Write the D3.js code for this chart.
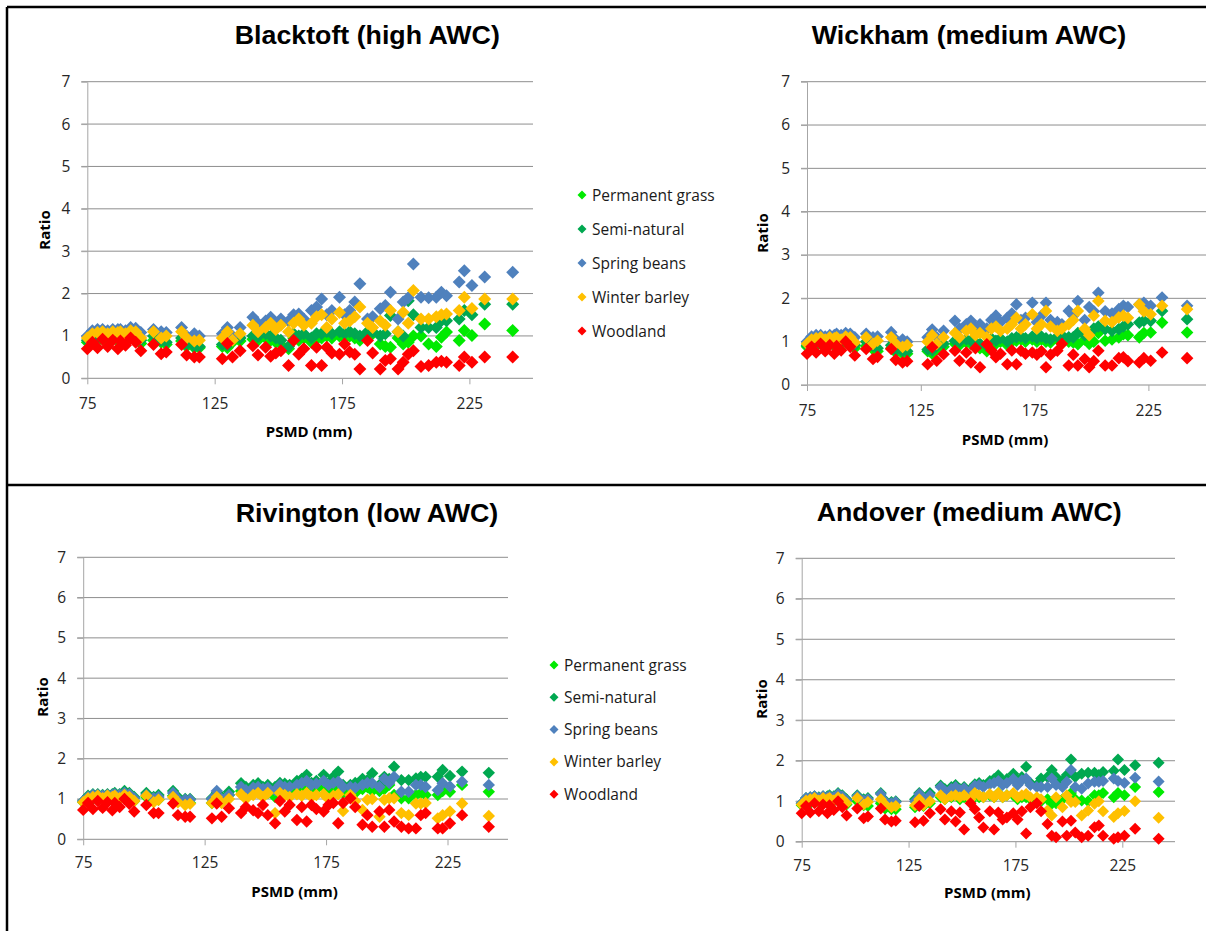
<!DOCTYPE html>
<html lang="en">
<head>
<meta charset="UTF-8">
<title>Ratio against PSMD at four sites</title>
<script src="https://cdn.jsdelivr.net/npm/d3@7"></script>
<style>
  html, body { margin: 0; padding: 0; background: #fff; }
  svg { display: block; }
</style>
</head>
<body>
<div id="chart"></div>
<script>
// PSMD (mm), shared by all sites
const psmd = [75, 77, 79, 81, 83, 85, 87, 88, 90, 92, 94, 96,
  101, 104, 106, 112, 114, 117, 119,
  128, 130, 132, 135,
  140, 142, 145, 147, 149, 151, 154, 156, 158, 160,
  163, 165, 167, 169, 171, 174, 176, 178, 180, 182,
  185, 187, 190, 192, 194, 197, 199, 201, 203,
  206, 209, 212, 214, 216, 221, 223, 226, 231, 242];

const seriesNames = ["Permanent grass", "Semi-natural", "Spring beans", "Winter barley", "Woodland"];
const yTicks = [0, 1, 2, 3, 4, 5, 6, 7];
const xTicks = [75, 125, 175, 225];

// Blacktoft (high AWC)
const bGrass = [0.85,0.90,0.88,0.92,0.90,0.92,0.88,0.90,0.92,0.95,0.90,0.82,
  0.90,0.85,0.80,0.88,0.75,0.72,0.72,
  0.75,0.72,0.85,0.88,
  0.92,0.90,0.95,0.90,0.85,0.80,0.70,0.95,0.90,0.95,
  0.85,0.92,0.95,1.00,0.95,1.00,0.95,1.00,0.95,0.90,
  1.00,1.05,0.81,0.75,0.73,0.95,0.81,0.85,1.00,
  1.00,0.81,0.75,0.97,1.09,0.89,1.13,1.01,1.28,1.13];
const bSemi = [0.90,0.95,0.95,1.00,0.98,1.00,0.98,1.00,1.00,1.05,1.00,0.90,
  1.00,0.90,0.85,0.95,0.80,0.75,0.75,
  0.80,0.78,0.90,0.95,
  1.00,0.98,1.05,1.00,0.95,0.90,0.75,1.05,1.00,1.05,
  0.95,1.05,1.05,1.10,1.05,1.10,1.05,1.10,1.05,1.00,
  1.10,1.10,1.00,1.05,1.48,1.10,1.00,1.83,1.50,
  1.20,1.20,1.20,1.36,1.36,1.40,1.60,1.50,1.75,1.75];
const bBeans = [1.00,1.12,1.15,1.15,1.12,1.15,1.15,1.15,1.12,1.20,1.18,1.08,
  1.15,1.10,1.08,1.20,1.00,1.05,1.00,
  1.05,1.20,1.00,1.20,
  1.44,1.30,1.35,1.44,1.30,1.40,1.35,1.50,1.52,1.40,
  1.60,1.68,1.87,1.50,1.60,1.91,1.50,1.60,1.80,2.23,
  1.40,1.45,1.64,1.72,2.03,1.40,1.80,1.90,2.70,
  1.91,1.90,1.91,2.03,1.95,2.27,2.54,2.19,2.39,2.50];
const bBarley = [0.95,1.05,1.08,1.10,1.05,1.10,1.08,1.10,1.05,1.12,1.10,0.95,
  1.10,0.95,1.00,1.10,0.95,0.88,0.90,
  0.95,1.10,0.90,1.05,
  1.25,1.10,1.20,1.30,1.15,1.25,1.10,1.30,1.40,1.25,
  1.30,1.45,1.50,1.20,1.40,1.55,1.30,1.35,1.45,1.68,
  1.30,1.20,1.35,1.25,1.60,1.10,1.56,1.30,2.07,
  1.40,1.40,1.45,1.50,1.52,1.60,1.91,1.65,1.87,1.87];
const bWood = [0.70,0.85,0.72,0.92,0.75,0.90,0.70,0.88,0.78,0.95,0.85,0.65,
  0.80,0.58,0.62,0.80,0.55,0.50,0.50,
  0.46,0.82,0.50,0.65,
  0.77,0.55,0.73,0.52,0.60,0.65,0.30,0.89,0.57,0.70,
  0.30,0.73,0.30,0.73,0.60,0.57,0.81,0.62,0.57,0.22,
  0.89,0.60,0.22,0.42,0.46,0.22,0.38,0.57,0.65,
  0.28,0.30,0.38,0.40,0.38,0.30,0.50,0.38,0.50,0.50];

// Wickham (medium AWC)
const wGrass = [0.88,0.92,0.90,0.95,0.92,0.95,0.90,0.92,0.95,0.98,0.92,0.85,
  0.90,0.82,0.78,0.85,0.75,0.72,0.72,
  0.78,0.72,0.82,0.88,
  0.95,0.92,0.98,0.95,0.90,0.85,0.78,1.00,0.95,1.00,
  0.92,1.00,1.02,1.05,1.00,1.05,1.00,1.05,1.00,0.98,
  1.05,1.10,1.00,0.98,0.94,1.05,0.95,1.00,1.20,
  1.02,1.05,1.10,1.17,1.15,1.10,1.20,1.21,1.44,1.21];
const wSemi = [0.92,0.98,0.98,1.02,1.00,1.02,1.00,1.02,1.02,1.08,1.02,0.92,
  1.00,0.90,0.85,0.92,0.80,0.78,0.78,
  0.82,0.80,0.90,0.95,
  1.02,1.00,1.05,1.02,0.98,0.95,0.90,1.08,1.02,1.08,
  1.00,1.08,1.10,1.12,1.08,1.12,1.08,1.12,1.08,1.05,
  1.12,1.15,1.10,1.10,1.20,1.15,1.20,1.30,1.35,
  1.29,1.25,1.29,1.35,1.40,1.44,1.48,1.48,1.71,1.52];
const wBeans = [1.00,1.12,1.15,1.15,1.12,1.15,1.15,1.18,1.15,1.20,1.18,1.10,
  1.18,1.10,1.12,1.22,1.05,1.05,1.00,
  1.10,1.28,1.10,1.25,
  1.48,1.30,1.40,1.48,1.35,1.40,1.30,1.50,1.60,1.45,
  1.55,1.65,1.86,1.50,1.55,1.90,1.45,1.60,1.90,1.50,
  1.45,1.40,1.71,1.60,1.94,1.50,1.80,1.70,2.13,
  1.70,1.65,1.75,1.83,1.80,1.86,1.90,1.83,2.02,1.83];
const wBarley = [0.95,1.05,1.08,1.10,1.05,1.10,1.08,1.10,1.05,1.12,1.10,0.98,
  1.10,0.95,1.02,1.10,0.95,0.88,0.92,
  1.00,1.15,0.95,1.10,
  1.20,1.10,1.25,1.30,1.15,1.20,1.10,1.30,1.35,1.25,
  1.30,1.40,1.55,1.30,1.40,1.63,1.30,1.40,1.71,1.35,
  1.25,1.30,1.40,1.50,1.71,1.30,1.15,1.60,1.94,
  1.48,1.45,1.56,1.60,1.55,1.86,1.70,1.63,1.83,1.75];
const wWood = [0.72,0.88,0.75,0.95,0.78,0.92,0.72,0.90,0.80,1.00,0.88,0.68,
  0.83,0.60,0.65,0.83,0.58,0.52,0.55,
  0.48,0.87,0.56,0.71,
  0.79,0.56,0.75,0.52,0.85,0.41,0.94,0.80,0.64,0.72,
  0.48,0.80,0.48,0.79,0.72,0.75,0.70,0.78,0.41,0.70,
  0.79,0.95,0.45,0.70,0.45,0.60,0.41,0.55,0.79,
  0.45,0.45,0.62,0.64,0.55,0.52,0.62,0.56,0.75,0.62];

// Rivington (low AWC)
const rGrass = [0.92,0.98,1.00,1.02,1.00,1.02,1.00,1.05,1.02,1.08,1.05,0.95,
  1.05,0.95,0.98,1.08,0.95,0.90,0.90,
  0.90,1.05,0.95,1.10,
  1.20,1.10,1.15,1.20,1.12,1.15,1.05,1.20,1.22,1.15,
  1.20,1.25,1.30,1.20,1.25,1.30,1.20,1.25,1.30,1.15,
  1.20,1.15,1.25,1.30,1.20,1.20,1.25,1.35,1.10,
  1.02,1.02,1.10,1.14,1.10,1.10,1.20,1.18,1.35,1.18];
const rSemi = [0.95,1.08,1.12,1.12,1.10,1.12,1.12,1.15,1.12,1.20,1.15,1.05,
  1.15,1.05,1.10,1.20,1.05,1.00,1.00,
  1.02,1.15,1.05,1.18,
  1.39,1.30,1.35,1.39,1.30,1.35,1.30,1.40,1.38,1.35,
  1.45,1.50,1.60,1.40,1.45,1.60,1.40,1.55,1.68,1.35,
  1.35,1.40,1.50,1.47,1.64,1.35,1.55,1.50,1.80,
  1.47,1.47,1.51,1.55,1.55,1.55,1.72,1.57,1.68,1.65];
const rBeans = [0.95,1.05,1.10,1.10,1.08,1.10,1.10,1.12,1.10,1.15,1.12,1.02,
  1.10,1.02,1.05,1.15,1.00,0.98,0.98,
  1.00,1.20,1.00,1.10,
  1.30,1.22,1.28,1.30,1.25,1.28,1.22,1.35,1.30,1.30,
  1.35,1.40,1.45,1.35,1.38,1.45,1.35,1.40,1.43,1.30,
  1.30,1.28,1.35,1.40,1.39,1.30,1.50,1.40,1.55,
  1.18,1.18,1.35,1.35,1.30,1.22,1.39,1.31,1.43,1.35];
const rBarley = [0.92,1.02,1.05,1.08,1.02,1.08,1.05,1.08,1.02,1.10,1.05,0.95,
  1.08,0.92,0.98,1.05,0.92,0.85,0.88,
  0.90,1.05,0.90,1.00,
  1.12,1.00,1.10,1.15,1.05,1.15,0.65,1.15,1.10,1.05,
  1.12,1.08,1.15,1.05,1.10,1.12,1.00,1.08,1.12,0.70,
  1.10,0.95,0.73,0.98,1.00,0.56,0.98,1.02,1.02,
  0.65,0.60,0.89,0.89,0.90,0.52,0.60,0.69,0.89,0.58];
const rWood = [0.73,0.90,0.75,0.95,0.78,0.92,0.72,0.90,0.80,1.00,0.88,0.69,
  0.85,0.65,0.65,0.89,0.60,0.56,0.56,
  0.52,0.89,0.56,0.77,
  0.65,0.80,0.72,0.65,0.85,0.60,0.40,0.95,0.69,0.85,
  0.48,0.80,0.44,0.85,0.75,0.69,0.85,0.90,0.40,0.90,
  1.02,0.80,0.36,0.60,0.31,0.69,0.31,0.73,0.44,
  0.31,0.27,0.27,0.60,0.65,0.27,0.27,0.40,0.60,0.31];

// Andover (medium AWC)
const aGrass = [0.90,0.95,0.95,1.00,0.98,1.00,0.98,1.00,1.00,1.05,1.00,0.92,
  1.00,0.90,0.88,0.95,0.82,0.80,0.80,
  0.85,0.90,0.88,0.95,
  1.10,1.05,1.10,1.15,1.05,1.10,1.00,1.15,1.10,1.10,
  1.15,1.10,1.20,1.10,1.15,1.15,1.05,1.10,1.10,1.05,
  1.00,1.00,1.05,0.94,0.95,1.05,1.10,1.20,1.05,
  1.02,1.00,1.15,1.15,1.20,1.10,1.20,1.15,1.35,1.23];
const aSemi = [0.95,1.08,1.10,1.12,1.10,1.12,1.12,1.15,1.12,1.20,1.15,1.05,
  1.15,1.05,1.08,1.20,1.02,0.98,1.00,
  1.05,1.20,1.05,1.20,
  1.39,1.30,1.35,1.40,1.30,1.35,1.30,1.42,1.45,1.40,
  1.50,1.55,1.64,1.50,1.55,1.68,1.50,1.60,1.85,1.45,
  1.40,1.56,1.60,1.77,1.60,1.50,1.65,2.03,1.60,
  1.68,1.70,1.70,1.65,1.72,1.75,2.03,1.77,1.89,1.95];
const aBeans = [0.95,1.08,1.10,1.12,1.08,1.12,1.10,1.12,1.10,1.18,1.12,1.02,
  1.12,1.02,1.05,1.18,1.00,0.95,0.98,
  1.00,1.18,1.02,1.15,
  1.35,1.25,1.30,1.35,1.28,1.32,1.25,1.38,1.40,1.35,
  1.42,1.45,1.50,1.40,1.45,1.55,1.40,1.52,1.56,1.40,
  1.35,1.35,1.35,1.56,1.40,1.35,1.48,1.77,1.35,
  1.31,1.44,1.48,1.48,1.50,1.56,1.50,1.45,1.58,1.49];
const aBarley = [0.92,1.02,1.05,1.08,1.02,1.08,1.05,1.08,1.02,1.10,1.05,0.95,
  1.08,0.92,0.98,1.05,0.92,0.85,0.88,
  0.90,1.05,0.90,1.00,
  1.15,1.05,1.12,1.15,1.10,1.15,1.05,1.20,1.15,1.10,
  1.18,1.10,1.20,1.10,1.15,1.20,1.10,1.15,1.18,1.10,
  1.10,1.05,0.77,0.65,1.10,0.85,1.15,0.98,0.98,
  0.65,0.77,0.94,1.00,0.75,0.61,0.70,0.76,1.00,0.59];
const aWood = [0.70,0.88,0.72,0.95,0.75,0.92,0.70,0.90,0.78,1.00,0.85,0.65,
  0.82,0.58,0.62,0.82,0.55,0.50,0.52,
  0.48,0.88,0.52,0.70,
  0.80,0.55,0.75,0.50,0.72,0.30,0.95,0.80,0.60,0.35,
  0.75,0.30,0.72,0.55,0.60,0.70,0.55,0.75,0.20,0.85,
  0.95,0.75,0.44,0.15,0.11,0.50,0.15,0.52,0.23,
  0.11,0.15,0.36,0.40,0.15,0.07,0.11,0.15,0.32,0.07];

const colors = ["#00ea00", "#00a850", "#4f81bd", "#ffc000", "#ff0000"];

// layout of each chart
const panels = [
  { title: "Blacktoft (high AWC)", series: [bGrass, bSemi, bBeans, bBarley, bWood],
    x75: 87.3, x225: 469.4, right: 533, y7: 81.7, y0: 378.3,
    titleX: 367.3, titleY: 44, titleW: 265, ratioX: 44.6, ratioY: 230, psmdX: 309, psmdY: 437,
    xLabelPad: 14, r: 6.5,
    legend: { x: 582, y: 195, step: 34 } },
  { title: "Wickham (medium AWC)", series: [wGrass, wSemi, wBeans, wBarley, wWood],
    x75: 807, x225: 1148.4, right: 1206, y7: 81.7, y0: 385,
    titleX: 969, titleY: 44, titleW: 314.5, ratioX: 762.7, ratioY: 233, psmdX: 1005, psmdY: 445,
    xLabelPad: 14, r: 6.3 },
  { title: "Rivington (low AWC)", series: [rGrass, rSemi, rBeans, rBarley, rWood],
    x75: 83.2, x225: 447.5, right: 508, y7: 557.3, y0: 839.3,
    titleX: 367, titleY: 521.7, titleW: 262.5, ratioX: 42.9, ratioY: 697, psmdX: 294.6, psmdY: 897,
    xLabelPad: 12, r: 6.2,
    legend: { x: 554, y: 665, step: 32.3 } },
  { title: "Andover (medium AWC)", series: [aGrass, aSemi, aBeans, aBarley, aWood],
    x75: 801.7, x225: 1122.3, right: 1175, y7: 558.3, y0: 841.7,
    titleX: 969.2, titleY: 520.7, titleW: 305, ratioX: 761.7, ratioY: 699, psmdX: 987.3, psmdY: 898,
    xLabelPad: 12, r: 6 }
];

const W = 1206, H = 931;
const svg = d3.select("#chart").append("svg")
  .attr("width", W)
  .attr("height", H);

// Excel style diamond marker
const diamondType = {
  draw(ctx, size) {
    const r = Math.sqrt(size) / 2;
    ctx.moveTo(0, -r); ctx.lineTo(r, 0); ctx.lineTo(0, r); ctx.lineTo(-r, 0); ctx.closePath();
  }
};

panels.forEach(p => {
  const x = d3.scaleLinear().domain([75, 225]).range([p.x75, p.x225]);
  const y = d3.scaleLinear().domain([0, 7]).range([p.y0, p.y7]);
  const g = svg.append("g");

  // horizontal gridlines
  g.append("g")
    .selectAll("line")
    .data(yTicks)
    .join("line")
    .attr("x1", p.x75 - 6)
    .attr("x2", p.right)
    .attr("y1", d => y(d))
    .attr("y2", d => y(d))
    .attr("stroke", "#8e8e8e")
    .attr("stroke-width", 1);

  // y axis
  const yAxis = g.append("g")
    .attr("transform", `translate(${p.x75},0)`)
    .call(d3.axisLeft(y).tickValues(yTicks).tickFormat(d3.format("d"))
      .tickSize(6).tickSizeOuter(0).tickPadding(11));
  yAxis.select(".domain").attr("stroke", "#a6a6a6");
  yAxis.selectAll(".tick line").attr("stroke", "#a6a6a6");
  yAxis.selectAll("text")
    .attr("font-family", "'Open Sans', sans-serif")
    .attr("font-size", 15.5)
    .attr("fill", "#262626");

  // x axis
  const xAxis = g.append("g")
    .attr("transform", `translate(0,${p.y0})`)
    .call(d3.axisBottom(x).tickValues(xTicks).tickFormat(d3.format("d"))
      .tickSize(6).tickSizeOuter(0).tickPadding(p.xLabelPad));
  xAxis.select(".domain").remove();
  xAxis.selectAll(".tick line").attr("stroke", "#a6a6a6");
  xAxis.selectAll("text")
    .attr("font-family", "'Open Sans', sans-serif")
    .attr("font-size", 15.5)
    .attr("fill", "#262626");

  // points, drawn in legend order so Woodland is on top
  const symbol = d3.symbol().type(diamondType).size((2 * p.r) ** 2);
  p.series.forEach((vals, i) => {
    g.append("g")
      .selectAll("path")
      .data(psmd.map((v, j) => [v, vals[j]]))
      .join("path")
      .attr("transform", d => `translate(${x(d[0])},${y(d[1])})`)
      .attr("d", symbol)
      .attr("fill", colors[i]);
  });

  // titles
  g.append("text")
    .attr("x", p.titleX)
    .attr("y", p.titleY)
    .attr("text-anchor", "middle")
    .attr("font-family", "'Liberation Sans', Arial, sans-serif")
    .attr("font-weight", "bold")
    .attr("font-size", 26)
    .attr("textLength", p.titleW)
    .attr("lengthAdjust", "spacingAndGlyphs")
    .text(p.title);

  g.append("text")
    .attr("transform", `translate(${p.ratioX},${p.ratioY}) rotate(-90)`)
    .attr("text-anchor", "middle")
    .attr("dy", "0.35em")
    .attr("font-family", "'Open Sans', sans-serif")
    .attr("font-weight", "bold")
    .attr("font-size", 15)
    .text("Ratio");

  g.append("text")
    .attr("x", p.psmdX)
    .attr("y", p.psmdY)
    .attr("text-anchor", "middle")
    .attr("font-family", "'Open Sans', sans-serif")
    .attr("font-weight", "bold")
    .attr("font-size", 15)
    .text("PSMD (mm)");

  // legend
  if (p.legend) {
    const lg = g.append("g");
    const small = d3.symbol().type(diamondType).size(81);
    const row = lg.selectAll("g")
      .data(seriesNames)
      .join("g")
      .attr("transform", (d, i) => `translate(${p.legend.x},${p.legend.y + i * p.legend.step})`);
    row.append("path")
      .attr("d", small)
      .attr("fill", (d, i) => colors[i]);
    row.append("text")
      .attr("x", 10)
      .attr("y", 5.5)
      .attr("font-family", "'Open Sans', sans-serif")
      .attr("font-size", 15.5)
      .attr("fill", "#1a1a1a")
      .text(d => d);
  }
});

// black frame lines between the charts
const frame = [
  [7, 7, 7, H],
  [7, 7, W, 7],
  [7, 485, W, 485]
];
svg.append("g")
  .selectAll("line")
  .data(frame)
  .join("line")
  .attr("x1", d => d[0]).attr("y1", d => d[1])
  .attr("x2", d => d[2]).attr("y2", d => d[3])
  .attr("stroke", "#000")
  .attr("stroke-width", 2.5);
</script>
</body>
</html>
